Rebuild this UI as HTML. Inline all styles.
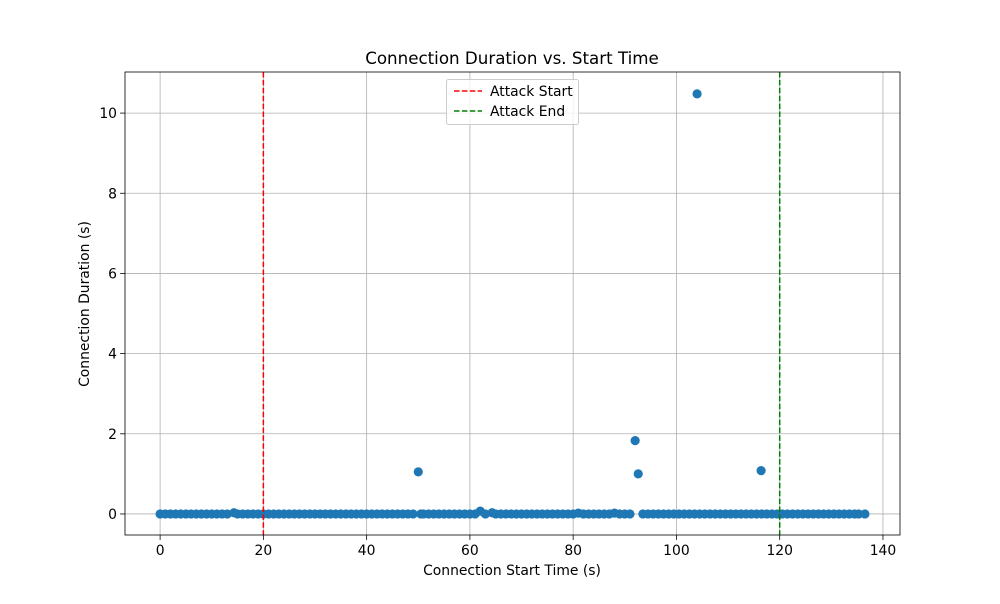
<!DOCTYPE html>
<html><head><meta charset="utf-8"><style>
body{margin:0;background:#fff;font-family:"DejaVu Sans","Liberation Sans",sans-serif}
svg text{font-family:"DejaVu Sans","Liberation Sans",sans-serif}
</style></head><body>
<svg id="chart" width="1000" height="600">
<rect width="1000" height="600" fill="#fff"/>
<g id="grid"></g><g id="marks"></g><g id="axes"></g>
</svg>
<script>
const xTicks=[0,20,40,60,80,100,120,140];
const yTicks=[0,2,4,6,8,10];
const baseTimes=[0,1,2,3,4,5,6,7,8,9,10,11,12,13,14.3,15,16,17,18,19,20,21,22,23,24,25,26,27,28,29,30,31,32,33,34,35,36,37,38,39,40,41,42,43,44,45,46,47,48,49,50.5,51,52,53,54,55,56,57,58,59,60,61,62,63,64.3,65,66,67,68,69,70,71,72,73,74,75,76,77,78,79,80,81,82,83,84,85,86,87,88,89,90,91,93.5,94.5,95.5,96.5,97.5,98.5,99.5,100.5,101.5,102.5,103.5,104.5,105.5,106.5,107.5,108.5,109.5,110.5,111.5,112.5,113.5,114.5,115.5,116.5,117.5,118.5,119.5,120.5,121.5,122.5,123.5,124.5,125.5,126.5,127.5,128.5,129.5,130.5,131.5,132.5,133.5,134.5,135.3,136.5];
const baseDur=[0,0,0,0,0,0,0,0,0,0,0,0,0,0,0.03,0,0,0,0,0,0,0,0,0,0,0,0,0,0,0,0,0,0,0,0,0,0,0,0,0,0,0,0,0,0,0,0,0,0,0,0,0,0,0,0,0,0,0,0,0,0,0,0.07,0,0.03,0,0,0,0,0,0,0,0,0,0,0,0,0,0,0,0,0.02,0,0,0,0,0,0,0.02,0,0,0,0,0,0,0,0,0,0,0,0,0,0,0,0,0,0,0,0,0,0,0,0,0,0,0,0,0,0,0,0,0,0,0,0,0,0,0,0,0,0,0,0,0,0,0,0.03,0];
const outTimes=[50,92,92.6,104,116.4];
const outDur=[1.05,1.83,1.0,10.48,1.08];
const attackStart=20, attackEnd=120;
const L=125,R=900,T=72,B=535,x0=-6.8,x1=143.3,y0=-0.525,y1=11.025;
const X=v=>L+(v-x0)/(x1-x0)*(R-L), Y=v=>B-(v-y0)/(y1-y0)*(B-T);
const NS='http://www.w3.org/2000/svg';
function mk(p,t,a){const e=document.createElementNS(NS,t);for(const k in a)e.setAttribute(k,a[k]);p.appendChild(e);return e;}
const g=document.getElementById('grid'),m=document.getElementById('marks'),ax=document.getElementById('axes');
xTicks.forEach(t=>{const l=mk(g,'line',{x1:X(t),x2:X(t),y1:T,y2:B,stroke:'#b0b0b0','stroke-width':0.8});

mk(ax,'line',{x1:X(t),x2:X(t),y1:B,y2:B+4.9,stroke:'#000','stroke-width':0.8});
const tx=mk(ax,'text',{x:X(t),y:B+20,'text-anchor':'middle','font-size':13.9});tx.textContent=t;
});
yTicks.forEach(t=>{const l=mk(g,'line',{x1:L,x2:R,y1:Y(t),y2:Y(t),stroke:'#b0b0b0','stroke-width':0.8});

mk(ax,'line',{x1:L-4.9,x2:L,y1:Y(t),y2:Y(t),stroke:'#000','stroke-width':0.8});
const tx=mk(ax,'text',{x:L-8,y:Y(t)+5,'text-anchor':'end','font-size':13.9});tx.textContent=t;
});
const pts=baseTimes.map((t,i)=>[t,baseDur[i]]).concat(outTimes.map((t,i)=>[t,outDur[i]]));
pts.forEach(p=>{const c=mk(m,'circle',{cx:X(p[0]),cy:Y(p[1]),r:4.6,fill:'#1f77b4'});
});
const a1=mk(m,'line',{x1:X(attackStart),x2:X(attackStart),y1:T,y2:B,stroke:'red','stroke-width':1.5,'stroke-dasharray':'5.5,2.4'});

const a2=mk(m,'line',{x1:X(attackEnd),x2:X(attackEnd),y1:T,y2:B,stroke:'green','stroke-width':1.5,'stroke-dasharray':'5.5,2.4'});

const fr=mk(ax,'rect',{x:L,y:T,width:R-L,height:B-T,fill:'none',stroke:'#000','stroke-width':0.8});

</script>
<svg style="position:absolute;left:0;top:0" width="1000" height="600">
<text x="512" y="64" text-anchor="middle" font-size="16.7">Connection Duration vs. Start Time</text>
<text x="512" y="575" text-anchor="middle" font-size="13.9">Connection Start Time (s)</text>
<text x="89" y="304" text-anchor="middle" font-size="13.9" transform="rotate(-90 89 304)">Connection Duration (s)</text>
<g>
<rect x="446.5" y="79.5" width="132" height="45" rx="2" fill="#fff" fill-opacity="0.8" stroke="#ccc"/>
<line x1="454" x2="482" y1="91" y2="91" stroke="red" stroke-width="1.5" stroke-dasharray="5.5,2.4"/>
<text x="490" y="96" font-size="13.9">Attack Start</text>
<line x1="454" x2="482" y1="111" y2="111" stroke="green" stroke-width="1.5" stroke-dasharray="5.5,2.4"/>
<text x="490" y="116" font-size="13.9">Attack End</text>
</g>
</svg>
</body></html>
